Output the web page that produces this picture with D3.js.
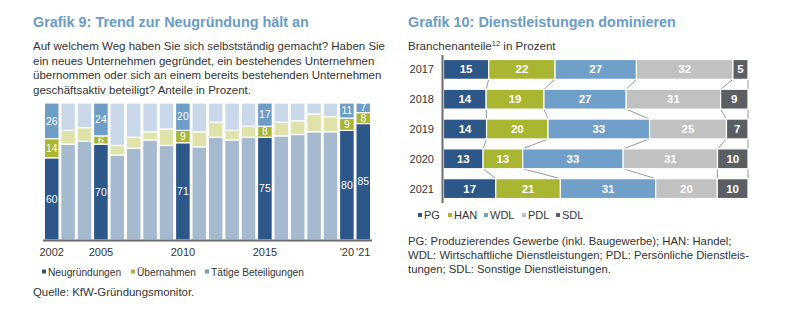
<!DOCTYPE html>
<html>
<head>
<meta charset="utf-8">
<script src="https://cdn.jsdelivr.net/npm/d3@7"></script>
<style>
  html, body { margin: 0; padding: 0; background: #fff; }
  svg { display: block; font-family: "Liberation Sans", Arial, sans-serif; }
</style>
</head>
<body>
<svg id="chart" width="800" height="331"></svg>
<script>
// ---- Grafik 9: Wege in die Selbstständigkeit (Anteile in Prozent) ----
const years9 = [2002, 2003, 2004, 2005, 2006, 2007, 2008, 2009, 2010, 2011,
                2012, 2013, 2014, 2015, 2016, 2017, 2018, 2019, 2020, 2021];
const neugruendungen = [60, 70, 72, 70, 62, 67, 73, 69, 71, 68, 75, 73, 75, 75, 76, 77, 79, 79, 80, 85];
const uebernahmen    = [14, 10, 10,  6,  7,  8,  6, 12,  9, 11, 11,  7,  8,  8, 10, 10, 13, 11,  9,  8];
const beteiligungen  = [26, 20, 18, 24, 31, 25, 21, 19, 20, 21, 14, 20, 17, 17, 14, 13,  8, 10, 11,  7];
const highlightYears = [2002, 2005, 2010, 2015, 2020, 2021];
const tickLabels9 = {2002: "2002", 2005: "2005", 2010: "2010", 2015: "2015", 2020: "'20", 2021: "'21"};
const series9 = ["Neugründungen", "Übernahmen", "Tätige Beteiligungen"];

// ---- Grafik 10: Branchenanteile in Prozent ----
const years10 = ["2017", "2018", "2019", "2020", "2021"];
const branchen = ["PG", "HAN", "WDL", "PDL", "SDL"];
const valPG  = [15, 14, 14, 13, 17];
const valHAN = [22, 19, 20, 13, 21];
const valWDL = [27, 27, 33, 33, 31];
const valPDL = [32, 31, 25, 31, 20];
const valSDL = [ 5,  9,  7, 10, 10];

const svg = d3.select("#chart");
const titleColor = "#6a9bc9";
const textColor = "#333";

// ============ left panel ============
const L = svg.append("g");
L.append("text").attr("x", 33).attr("y", 27)
  .attr("font-size", 14.4).attr("font-weight", "bold").attr("fill", titleColor)
  .text("Grafik 9: Trend zur Neugründung hält an");

const intro = [
  "Auf welchem Weg haben Sie sich selbstständig gemacht? Haben Sie",
  "ein neues Unternehmen gegründet, ein bestehendes Unternehmen",
  "übernommen oder sich an einem bereits bestehenden Unternehmen",
  "geschäftsaktiv beteiligt? Anteile in Prozent."
];
L.selectAll("text.intro").data(intro).join("text").attr("class", "intro")
  .attr("x", 33).attr("y", (d, i) => 50 + i * 14.5)
  .attr("font-size", 11.5).attr("fill", textColor).text(d => d);

const rows9 = years9.map((y, i) => ({
  year: y,
  "Neugründungen": neugruendungen[i],
  "Übernahmen": uebernahmen[i],
  "Tätige Beteiligungen": beteiligungen[i]
}));
const stack9 = d3.stack().keys(series9)(rows9);

const x9 = d3.scaleBand().domain(years9).range([44, 371]).paddingInner(0.1).paddingOuter(0.02);
const y9 = d3.scaleLinear().domain([0, 100]).range([240, 103]);

const strong9 = { "Neugründungen": "#2d5788", "Übernahmen": "#a8b632", "Tätige Beteiligungen": "#6e9dc6" };
const faded9  = { "Neugründungen": "#a5b9cf", "Übernahmen": "#dfe3aa", "Tätige Beteiligungen": "#c9d9ea" };
const isHi = y => highlightYears.includes(y);

stack9.forEach(layer => {
  const g = L.append("g");
  g.selectAll("rect").data(layer).join("rect")
    .attr("x", d => x9(d.data.year))
    .attr("width", x9.bandwidth())
    .attr("y", d => y9(d[1]))
    .attr("height", d => y9(d[0]) - y9(d[1]))
    .attr("fill", d => isHi(d.data.year) ? strong9[layer.key] : faded9[layer.key])
    .attr("stroke", "#fff").attr("stroke-width", 1.2);
  g.selectAll("text").data(layer.filter(d => isHi(d.data.year))).join("text")
    .attr("x", d => x9(d.data.year) + x9.bandwidth() / 2)
    .attr("y", d => (y9(d[0]) + y9(d[1])) / 2 + 3.7)
    .attr("text-anchor", "middle").attr("font-size", 10.4).attr("fill", "#fff")
    .text(d => d[1] - d[0]);
});

// baseline
L.append("line").attr("x1", 43).attr("x2", 372).attr("y1", 240.5).attr("y2", 240.5)
  .attr("stroke", "#6b6b6b").attr("stroke-width", 2.2);

L.selectAll("text.tick").data(years9.filter(y => tickLabels9[y])).join("text").attr("class", "tick")
  .attr("x", d => x9(d) + x9.bandwidth() / 2).attr("y", 256)
  .attr("text-anchor", "middle").attr("font-size", 11).attr("fill", textColor)
  .text(d => tickLabels9[d]);

// legend
const leg9x = [42, 131, 205];
series9.forEach((s, i) => {
  L.append("rect").attr("x", leg9x[i]).attr("y", 269.5).attr("width", 4).attr("height", 4).attr("fill", strong9[s]);
  L.append("text").attr("x", leg9x[i] + 6).attr("y", 275.5).attr("font-size", 10.2).attr("fill", textColor).text(s);
});

L.append("text").attr("x", 33).attr("y", 296).attr("font-size", 11.4).attr("fill", textColor)
  .text("Quelle: KfW-Gründungsmonitor.");

// ============ right panel ============
const R = svg.append("g");
R.append("text").attr("x", 408).attr("y", 27)
  .attr("font-size", 14.4).attr("font-weight", "bold").attr("fill", titleColor)
  .text("Grafik 10: Dienstleistungen dominieren");

const sub = R.append("text").attr("x", 408).attr("y", 50).attr("font-size", 11.6).attr("fill", textColor);
sub.append("tspan").text("Branchenanteile");
sub.append("tspan").attr("font-size", 7.5).attr("dy", -4).text("12");
sub.append("tspan").attr("dy", 4).text(" in Prozent");

const rows10 = years10.map((y, i) => ({
  year: y, PG: valPG[i], HAN: valHAN[i], WDL: valWDL[i], PDL: valPDL[i], SDL: valSDL[i]
}));
const stack10 = d3.stack().keys(branchen).offset(d3.stackOffsetExpand)(rows10);

const y10 = d3.scaleBand().domain(years10).range([55, 203]).paddingInner(1 / 3).paddingOuter(0.15);
const x10 = d3.scaleLinear().domain([0, 1]).range([443.5, 748]);
const col10 = { PG: "#2d5788", HAN: "#a8b632", WDL: "#70a0c9", PDL: "#c1c1c1", SDL: "#5b5f64" };

// connectors between segment boundaries of successive years
const conn = [];
for (let i = 0; i < years10.length - 1; i++) {
  stack10.forEach(layer => {
    conn.push({
      x1: x10(layer[i][1]), y1: y10(years10[i]) + y10.bandwidth(),
      x2: x10(layer[i + 1][1]), y2: y10(years10[i + 1])
    });
  });
}
R.selectAll("line.conn").data(conn).join("line").attr("class", "conn")
  .attr("x1", d => d.x1).attr("y1", d => d.y1).attr("x2", d => d.x2).attr("y2", d => d.y2)
  .attr("stroke", "#8a8a8a").attr("stroke-width", 0.9);

stack10.forEach(layer => {
  const g = R.append("g");
  g.selectAll("rect").data(layer).join("rect")
    .attr("x", d => x10(d[0])).attr("width", d => x10(d[1]) - x10(d[0]))
    .attr("y", d => y10(d.data.year)).attr("height", y10.bandwidth())
    .attr("fill", col10[layer.key]).attr("stroke", "#fff").attr("stroke-width", 1.2);
  g.selectAll("text").data(layer).join("text")
    .attr("x", d => (x10(d[0]) + x10(d[1])) / 2)
    .attr("y", d => y10(d.data.year) + y10.bandwidth() / 2 + 4)
    .attr("text-anchor", "middle").attr("font-size", 11.5).attr("font-weight", "bold").attr("fill", "#fff")
    .text(d => d.data[layer.key]);
});

// category axis
R.append("line").attr("x1", 442.5).attr("x2", 442.5).attr("y1", 55).attr("y2", 203)
  .attr("stroke", "#6b6b6b").attr("stroke-width", 2);
R.selectAll("text.year").data(years10).join("text").attr("class", "year")
  .attr("x", 434).attr("y", d => y10(d) + y10.bandwidth() / 2 + 4)
  .attr("text-anchor", "end").attr("font-size", 11).attr("fill", textColor).text(d => d);

// legend
const leg10x = [418, 448, 484, 522, 556];
branchen.forEach((b, i) => {
  R.append("rect").attr("x", leg10x[i]).attr("y", 213).attr("width", 4).attr("height", 4).attr("fill", col10[b]);
  R.append("text").attr("x", leg10x[i] + 6).attr("y", 219).attr("font-size", 11).attr("fill", textColor).text(b);
});

const notes = [
  "PG: Produzierendes Gewerbe (inkl. Baugewerbe); HAN: Handel;",
  "WDL: Wirtschaftliche Dienstleistungen; PDL: Persönliche Dienstleis-",
  "tungen; SDL: Sonstige Dienstleistungen."
];
R.selectAll("text.note").data(notes).join("text").attr("class", "note")
  .attr("x", 408).attr("y", (d, i) => 245 + i * 13.8)
  .attr("font-size", 11.3).attr("fill", textColor).text(d => d);
</script>
</body>
</html>
